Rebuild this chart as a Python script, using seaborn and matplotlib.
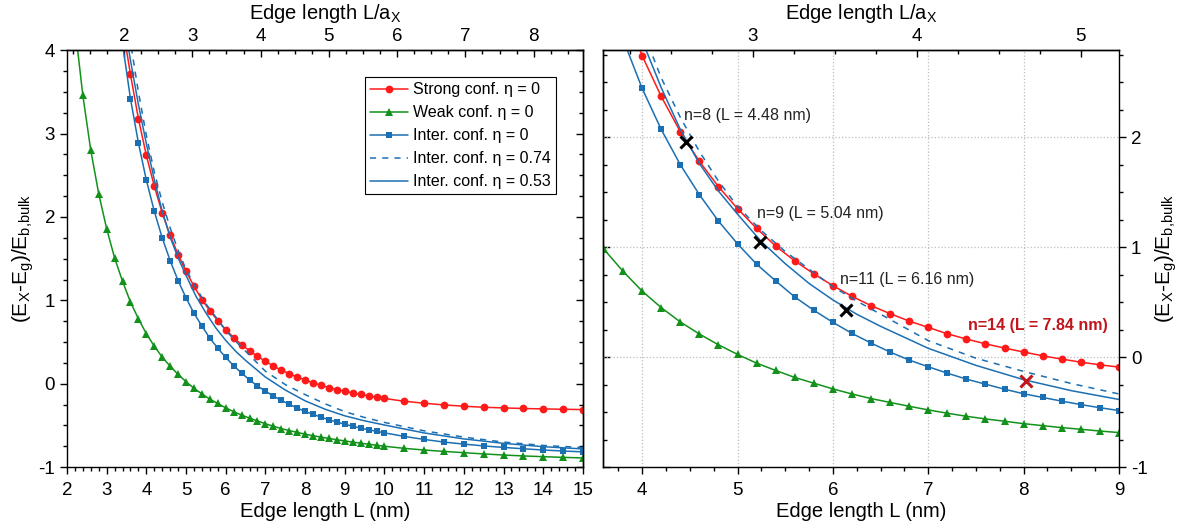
import matplotlib
matplotlib.use("Agg")
import pandas as pd
import matplotlib.pyplot as plt
import seaborn as sns
from matplotlib.ticker import MultipleLocator, FixedLocator

# ==================== 1. data ====================
# edge length L (nm) and (E_X - E_g) / E_b,bulk
L_markers = [3.4, 3.6, 3.8, 4.0, 4.2, 4.4, 4.6, 4.8, 5.0, 5.2, 5.4, 5.6, 5.8, 6.0,
             6.2, 6.4, 6.6, 6.8, 7.0, 7.2, 7.4, 7.6, 7.8, 8.0, 8.2, 8.4, 8.6, 8.8,
             9.0, 9.2, 9.4, 9.6, 9.8, 10.0, 10.5, 11.0, 11.5, 12.0, 12.5, 13.0,
             13.5, 14.0, 14.5, 15.0]
strong_eta0 = [4.30, 3.71, 3.18, 2.74, 2.37, 2.05, 1.78, 1.55, 1.35, 1.17, 1.01, 0.875,
               0.757, 0.65, 0.553, 0.468, 0.395, 0.328, 0.27, 0.212, 0.164, 0.121,
               0.082, 0.046, 0.012, -0.018, -0.046, -0.070, -0.091, -0.110, -0.128,
               -0.146, -0.162, -0.177, -0.210, -0.234, -0.254, -0.270, -0.282,
               -0.290, -0.297, -0.302, -0.306, -0.310]
inter_eta0 = [4.08, 3.42, 2.89, 2.443, 2.07, 1.75, 1.477, 1.237, 1.03, 0.845, 0.693,
              0.547, 0.426, 0.316, 0.216, 0.128, 0.046, -0.027, -0.088, -0.146, -0.200,
              -0.246, -0.292, -0.333, -0.367, -0.400, -0.432, -0.460, -0.486, -0.510,
              -0.532, -0.552, -0.571, -0.589, -0.632, -0.668, -0.700, -0.724, -0.746,
              -0.764, -0.780, -0.795, -0.807, -0.817]

L_weak = [2.2, 2.4, 2.6, 2.8, 3.0, 3.2, 3.4, 3.6, 3.8, 4.0, 4.2, 4.4, 4.6, 4.8, 5.0,
          5.2, 5.4, 5.6, 5.8, 6.0, 6.2, 6.4, 6.6, 6.8, 7.0, 7.2, 7.4, 7.6, 7.8, 8.0,
          8.2, 8.4, 8.6, 8.8, 9.0, 9.2, 9.4, 9.6, 9.8, 10.0, 10.5, 11.0, 11.5, 12.0,
          12.5, 13.0, 13.5, 14.0, 14.5, 15.0]
weak_eta0 = [4.29, 3.46, 2.80, 2.28, 1.86, 1.51, 1.23, 0.98, 0.78, 0.60, 0.45, 0.32,
             0.21, 0.112, 0.025, -0.055, -0.121, -0.185, -0.237, -0.289, -0.335, -0.377,
             -0.412, -0.447, -0.480, -0.510, -0.538, -0.562, -0.583, -0.605, -0.623,
             -0.641, -0.656, -0.672, -0.686, -0.700, -0.713, -0.726, -0.738, -0.750,
             -0.775, -0.795, -0.812, -0.827, -0.842, -0.855, -0.866, -0.875, -0.883,
             -0.890]

L_lines = [3.4, 3.6, 3.8, 4.0, 4.2, 4.4, 4.6, 4.8, 5.0, 5.25, 5.5, 5.75, 6.0, 6.25,
           6.5, 7.0, 7.5, 8.0, 8.5, 9.0, 9.5, 10.0, 11.0, 12.0, 13.0, 14.0, 15.0]
inter_eta074 = [4.85, 4.10, 3.50, 2.98, 2.54, 2.18, 1.87, 1.60, 1.37, 1.15, 0.96, 0.80,
                0.64, 0.51, 0.39, 0.15, -0.01, -0.13, -0.24, -0.335, -0.405, -0.464,
                -0.565, -0.640, -0.700, -0.740, -0.765]
inter_eta053 = [4.47, 3.88, 3.35, 2.88, 2.45, 2.07, 1.76, 1.51, 1.30, 1.05, 0.85, 0.67,
                0.52, 0.39, 0.28, 0.08, -0.075, -0.205, -0.305, -0.385, -0.445, -0.495,
                -0.590, -0.662, -0.715, -0.755, -0.782]

# marked cube sizes (right panel)
mark_L = [4.46, 5.24, 6.14]
mark_y = [1.96, 1.045, 0.428]
mark_labels = ["n=8 (L = 4.48 nm)", "n=9 (L = 5.04 nm)", "n=11 (L = 6.16 nm)"]
mark14_L, mark14_y = 8.03, -0.216
mark14_label = "n=14 (L = 7.84 nm)"

A_X = 1.72  # nm, for the L/a_X axis
top_ticks_left = [2, 3, 4, 5, 6, 7, 8]
top_ticks_right = [3, 4, 5]

# ==================== 2. style ====================
sns.set_theme(style="ticks")
plt.rcParams["font.family"] = ["Liberation Sans", "DejaVu Sans"]
plt.rcParams["mathtext.default"] = "regular"
plt.rcParams["axes.unicode_minus"] = False
plt.rcParams["axes.linewidth"] = 1.0
for key in ["text.color", "axes.labelcolor", "xtick.color", "ytick.color",
            "xtick.labelcolor", "ytick.labelcolor", "axes.edgecolor"]:
    plt.rcParams[key] = "black"

RED = "#ff1a1a"
GREEN = "#12921a"
BLUE = "#1b6fb3"
DARKRED = "#c0161e"

YLABEL = "(E$_{X}$-E$_{g}$)/E$_{b{,}bulk}$"

fig = plt.figure(figsize=(11.85, 5.29), dpi=100)
ax1 = fig.add_axes([0.0565, 0.117, 0.4354, 0.788])
ax2 = fig.add_axes([0.5089, 0.117, 0.4354, 0.788])


def draw_series(ax, with_labels=False):
    lw = 1.1
    sns.lineplot(x=L_markers, y=strong_eta0, ax=ax, color=RED, marker="o",
                 ms=5.6, mec=RED, mew=0, lw=lw, sort=False,
                 label="Strong conf. η = 0" if with_labels else None)
    sns.lineplot(x=L_weak, y=weak_eta0, ax=ax, color=GREEN, marker="^",
                 ms=6.0, mec=GREEN, mew=0, lw=lw, sort=False,
                 label="Weak conf. η = 0" if with_labels else None)
    sns.lineplot(x=L_markers, y=inter_eta0, ax=ax, color=BLUE, marker="s",
                 ms=4.4, mec=BLUE, mew=0, lw=lw, sort=False,
                 label="Inter. conf. η = 0" if with_labels else None)
    sns.lineplot(x=L_lines, y=inter_eta074, ax=ax, color=BLUE, lw=lw, sort=False,
                 linestyle=(0, (4, 4)),
                 label="Inter. conf. η = 0.74" if with_labels else None)
    sns.lineplot(x=L_lines, y=inter_eta053, ax=ax, color=BLUE, lw=lw, sort=False,
                 label="Inter. conf. η = 0.53" if with_labels else None)


def setup_ticks(ax, xminor, label_side, top_ticks):
    ax.xaxis.set_major_locator(MultipleLocator(1))
    ax.xaxis.set_minor_locator(MultipleLocator(xminor))
    ax.yaxis.set_major_locator(MultipleLocator(1))
    ax.yaxis.set_minor_locator(MultipleLocator(0.25))
    ax.tick_params(axis="x", which="both", direction="out", top=False, bottom=True,
                   labelsize=13.5, pad=6)
    ax.tick_params(axis="both", which="major", length=5, width=1.0)
    ax.tick_params(axis="both", which="minor", length=3, width=1.0)
    if label_side == "left":
        ax.tick_params(axis="y", which="both", direction="out", left=True, right=False,
                       labelsize=13.5)
    else:
        ax.yaxis.tick_right()
        ax.yaxis.set_label_position("right")
        ax.tick_params(axis="y", which="both", direction="out", left=False, right=True,
                       labelleft=False, labelright=True, labelsize=13.5)

    # top axis in units of a_X (only ticks that fall inside the panel)
    lo, hi = ax.get_xlim()
    top = ax.secondary_xaxis("top", functions=(lambda L: L / A_X, lambda n: n * A_X))
    top.xaxis.set_major_locator(FixedLocator(top_ticks))
    minors = [t + q for t in range(int(lo / A_X) - 1, int(hi / A_X) + 2)
              for q in (0.25, 0.5, 0.75)]
    minors = [m for m in minors if lo <= m * A_X <= hi]
    top.xaxis.set_minor_locator(FixedLocator(minors))
    top.tick_params(which="both", direction="in", labelsize=13.5, pad=4, width=1.0)
    top.tick_params(which="major", length=5)
    top.tick_params(which="minor", length=3)
    top.set_xlabel("Edge length L/a$_{X}$", fontsize=14.5, labelpad=6)

    # mirrored y ticks without labels
    other = "right" if label_side == "left" else "left"
    mirror = ax.secondary_yaxis(other, functions=(lambda y: y, lambda y: y))
    mirror.yaxis.set_major_locator(MultipleLocator(1))
    mirror.yaxis.set_minor_locator(MultipleLocator(0.25))
    mirror.tick_params(which="both", direction="in", labelleft=False, labelright=False,
                       width=1.0)
    mirror.tick_params(which="major", length=5)
    mirror.tick_params(which="minor", length=3)


# ==================== 3. left panel ====================
draw_series(ax1, with_labels=True)
ax1.set_xlim(2, 15)
ax1.set_ylim(-1, 4)
setup_ticks(ax1, 0.2, "left", top_ticks_left)
ax1.set_xlabel("Edge length L (nm)", fontsize=14.5, labelpad=2)
ax1.set_ylabel(YLABEL, fontsize=15, labelpad=2)
leg = ax1.legend(loc="upper right", bbox_to_anchor=(1, 1), borderaxespad=1.7,
                 fontsize=11.5, frameon=True, fancybox=False, edgecolor="black",
                 framealpha=1, handlelength=2.4, handletextpad=0.3,
                 labelspacing=0.5, borderpad=0.3, numpoints=1)
leg.get_frame().set_linewidth(0.8)

# ==================== 4. right panel (zoom) ====================
draw_series(ax2)
if ax2.get_legend() is not None:
    ax2.get_legend().remove()
ax2.set_xlim(3.59, 9)
ax2.set_ylim(-1, 2.79)
ax2.set_axisbelow(True)
ax2.grid(True, which="major", linestyle=":", color="#bdbdbd", linewidth=0.9)
setup_ticks(ax2, 0.25, "right", top_ticks_right)
ax2.set_xlabel("Edge length L (nm)", fontsize=14.5, labelpad=2)
ax2.set_ylabel(YLABEL, fontsize=15, labelpad=4)

sns.lineplot(x=mark_L, y=mark_y, ax=ax2, color="black", marker="x", ms=9,
             mew=2.2, mec="black", linestyle="none", sort=False, zorder=5)
ax2.plot([mark14_L], [mark14_y], linestyle="none", marker="x", ms=9, mew=2.2,
         color=DARKRED, zorder=5)

label_pos = [(4.44, 2.20), (5.20, 1.31), (6.075, 0.71)]
for (tx, ty), txt in zip(label_pos, mark_labels):
    ax2.text(tx, ty, txt, fontsize=11.5, color="#222222", ha="left", va="center")
ax2.text(7.42, 0.285, mark14_label, fontsize=11.5, color=DARKRED, fontweight="bold",
         ha="left", va="center")

fig.savefig("out.png", dpi=100)
